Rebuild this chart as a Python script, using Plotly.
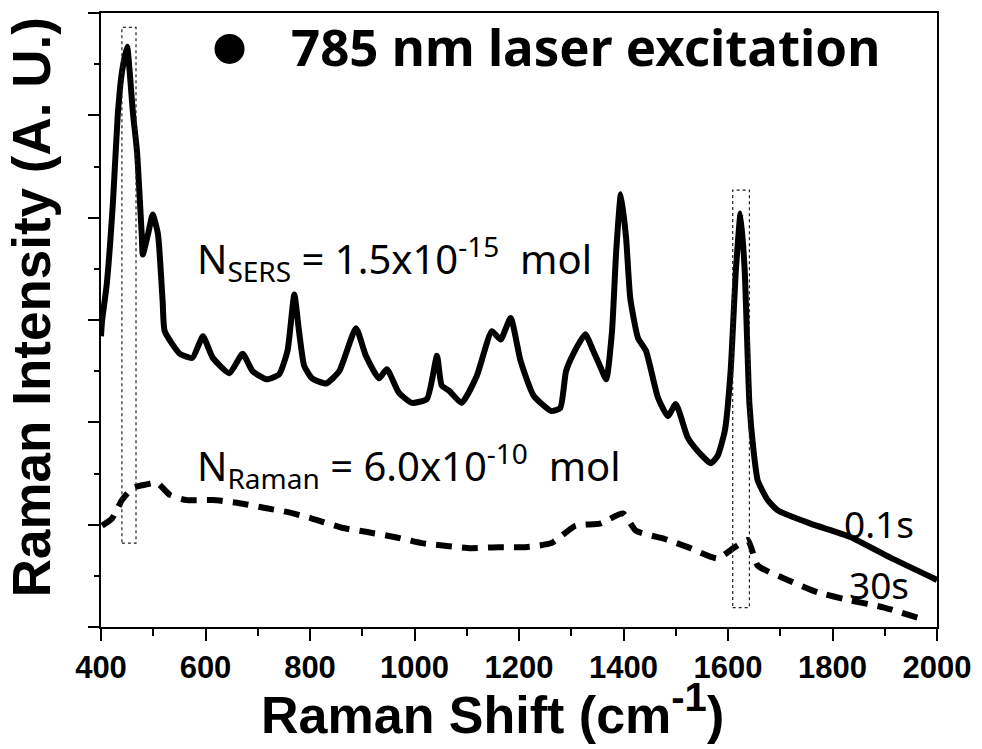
import plotly.graph_objects as go

# SERS spectrum, 0.1 s acquisition (Raman shift in cm-1, intensity in a.u.)
sers_shift = [400, 402, 411, 423, 432, 440, 450, 455, 461, 469, 478, 480, 490, 499, 509, 518, 522,
              551, 575, 595, 614, 646, 671, 690, 717, 741, 757, 770, 779, 789, 804, 831, 856, 888,
              907, 932, 947, 970, 995, 1024, 1043, 1052, 1066, 1090, 1119, 1148, 1165, 1184, 1203,
              1228, 1262, 1279, 1290, 1304, 1327, 1342, 1355, 1367, 1378, 1386, 1395, 1405, 1413,
              1428, 1443, 1466, 1485, 1500, 1523, 1542, 1567, 1580, 1594, 1605, 1615, 1624, 1632,
              1641, 1649, 1657, 1676, 1695, 1758, 1834, 1910, 2000]
sers_int = [2.84, 2.99, 3.35, 4.16, 5.00, 5.42, 5.67, 5.42, 5.03, 4.64, 3.83, 3.64, 3.84, 4.03, 3.84,
            3.18, 2.89, 2.67, 2.63, 2.84, 2.63, 2.48, 2.67, 2.50, 2.42, 2.47, 2.70, 3.25, 2.89, 2.55,
            2.43, 2.38, 2.50, 2.92, 2.65, 2.43, 2.52, 2.29, 2.19, 2.23, 2.65, 2.36, 2.31, 2.19, 2.45,
            2.89, 2.81, 3.02, 2.60, 2.26, 2.11, 2.14, 2.50, 2.67, 2.86, 2.70, 2.55, 2.42, 2.89, 3.67,
            4.23, 3.80, 3.21, 2.82, 2.70, 2.24, 2.06, 2.18, 1.85, 1.72, 1.60, 1.67, 1.92, 2.50, 3.48,
            4.04, 3.48, 2.18, 1.72, 1.43, 1.24, 1.14, 1.01, 0.88, 0.68, 0.46]

# Normal Raman spectrum, 30 s acquisition
raman_shift = [402, 421, 440, 461, 484, 507, 532, 564, 614, 665, 717, 760, 804, 861, 907, 961, 1014,
               1066, 1108, 1161, 1212, 1262, 1308, 1355, 1399, 1424, 1479, 1523, 1580, 1613, 1638,
               1657, 1714, 1771, 1834, 1899, 1975]
raman_int = [0.99, 1.06, 1.24, 1.36, 1.39, 1.41, 1.29, 1.24, 1.24, 1.21, 1.16, 1.12, 1.06, 0.97, 0.93,
             0.88, 0.82, 0.79, 0.77, 0.78, 0.78, 0.82, 0.99, 1.01, 1.11, 0.94, 0.86, 0.78, 0.67, 0.78,
             0.85, 0.60, 0.46, 0.34, 0.26, 0.19, 0.07]

# Highlighted bands (x range) and box heights
bands = [(440, 467, 0.82, 5.86), (1609, 1641, 0.19, 4.27)]

x_ticks = [400, 600, 800, 1000, 1200, 1400, 1600, 1800, 2000]

ANNOT_FONT = "Noto Sans"
AXIS_FONT = "Liberation Sans"

fig = go.Figure()
fig.add_trace(go.Scatter(x=sers_shift, y=sers_int, mode="lines", name="0.1s",
                         line=dict(color="black", width=6, shape="spline", smoothing=0.5)))
fig.add_trace(go.Scatter(x=raman_shift, y=raman_int, mode="lines", name="30s",
                         line=dict(color="black", width=6, dash="16px,10px",
                                   shape="spline", smoothing=0.5)))

for x0, x1, y0, y1 in bands:
    fig.add_shape(type="rect", xref="x", yref="y", x0=x0, x1=x1, y0=y0, y1=y1,
                  line=dict(color="#222", width=1.2, dash="dot"), fillcolor="rgba(0,0,0,0)")

# Legend-style dot before the excitation label
fig.add_shape(type="circle", xref="paper", yref="paper", xsizemode="pixel", ysizemode="pixel",
              xanchor=(230 - 101) / 839, yanchor=(627 - 47) / 616,
              x0=-15, x1=15, y0=-15, y1=15, fillcolor="black", line=dict(width=0))


def px(xp, yp):
    return (xp - 101) / 839, (627 - yp) / 616


annots = [
    ("785 nm laser excitation", 290, 44, 51, "bold", "left"),
    ("N<sub>SERS</sub> = 1.5x10<sup>-15</sup>  mol", 195, 257, 40, "normal", "left"),
    ("N<sub>Raman</sub> = 6.0x10<sup>-10</sup>  mol", 195, 465, 40, "normal", "left"),
    ("0.1s", 845, 523, 37, "normal", "left"),
    ("30s", 850, 584, 37, "normal", "left"),
]
for text, xp, yp, size, weight, anchor in annots:
    ax, ay = px(xp, yp)
    fig.add_annotation(text=text, x=ax, y=ay, xref="paper", yref="paper", showarrow=False,
                       xanchor=anchor, yanchor="middle",
                       font=dict(family=ANNOT_FONT, size=size, color="black", weight=weight))

# Axis titles
tx, ty = px(494, 710)
fig.add_annotation(text="Raman Shift (cm<sup><span style='font-size:40px'>-1</span></sup>)",
                   x=tx, y=ty, xref="paper", yref="paper", showarrow=False,
                   xanchor="center", yanchor="middle",
                   font=dict(family=AXIS_FONT, size=52, color="black", weight="bold"))
lx, ly = px(31, 306)
fig.add_annotation(text="Raman Intensity (A. U.)", x=lx, y=ly, xref="paper", yref="paper",
                   showarrow=False, textangle=-90, xanchor="center", yanchor="middle",
                   font=dict(family=AXIS_FONT, size=53, color="black", weight="bold"))

fig.update_xaxes(range=[400, 2000], tickvals=x_ticks, ticks="outside", ticklen=12, tickwidth=2,
                 tickcolor="black", showline=True, linecolor="black", linewidth=2, mirror=True,
                 showgrid=False, zeroline=False,
                 tickfont=dict(family=AXIS_FONT, size=31, color="black", weight="bold"),
                 minor=dict(dtick=100, ticks="outside", ticklen=7, tickwidth=2, tickcolor="black"))
fig.update_yaxes(range=[0, 6], dtick=1, ticks="outside", ticklen=11, tickwidth=2,
                 tickcolor="black", showline=True, linecolor="black", linewidth=2, mirror=True,
                 showgrid=False, zeroline=False, showticklabels=False,
                 minor=dict(dtick=0.5, ticks="outside", ticklen=5, tickwidth=2, tickcolor="black"))

fig.update_layout(width=982, height=749, margin=dict(l=101, r=42, t=11, b=122),
                  plot_bgcolor="white", paper_bgcolor="white", showlegend=False)

fig.write_html("out.html")
